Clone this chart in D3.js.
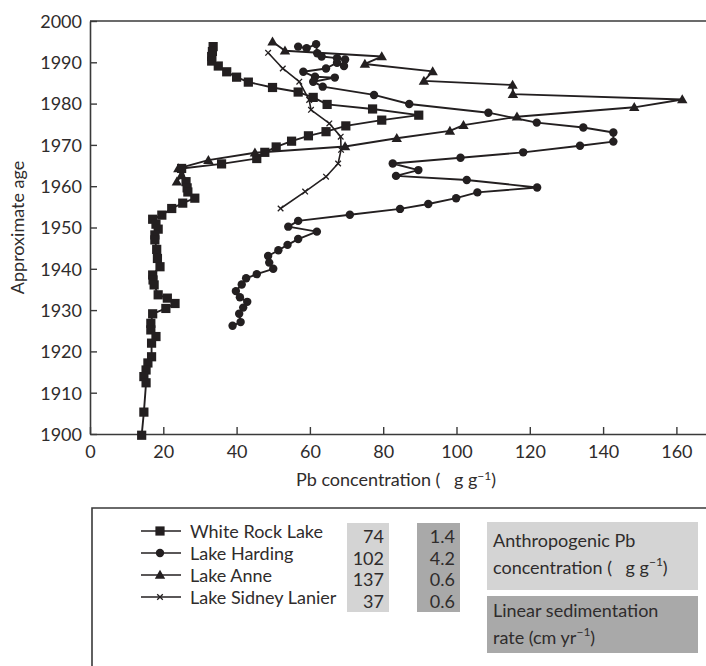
<!DOCTYPE html>
<html><head><meta charset="utf-8">
<script src="https://cdn.jsdelivr.net/npm/d3@7"></script>
<style>
html,body{margin:0;padding:0;background:#fff;}
svg text{font-family:Lato,"Open Sans",sans-serif;fill:#2f2c2c;}
</style></head>
<body><svg id="c" width="706" height="666"></svg>
<script>
// ---------- data ----------
const seriesNames = ["White Rock Lake","Lake Harding","Lake Anne","Lake Sidney Lanier"];
const seriesMarkers = ["square","circle","triangle","x"];

const whiteRockConc = [33.6,33.4,33.2,33.2,35.0,37.3,40.0,43.2,49.8,56.8,60.9,64.7,77.1,89.7,79.6,69.8,64.4,59.6,55.0,50.8,47.7,45.5,35.9,25.0,26.2,26.5,26.7,28.6,25.3,22.3,19.6,17.1,18.0,18.6,17.7,17.7,18.2,18.4,19.1,17.1,17.2,17.5,18.6,21.1,23.2,20.7,17.1,16.6,16.6,18.0,16.8,16.8,15.8,15.3,14.7,15.3,14.7,14.1];
const whiteRockYear = [1993.8,1992.6,1991.4,1990.3,1989.1,1987.7,1986.4,1985.2,1983.9,1982.8,1981.5,1979.8,1978.7,1977.2,1976.0,1974.6,1973.2,1972.2,1970.9,1969.5,1968.2,1966.7,1965.4,1964.3,1961.1,1959.6,1958.6,1957.1,1955.9,1954.6,1953.0,1952.0,1950.8,1949.6,1948.2,1947.0,1944.7,1942.5,1940.5,1938.5,1937.3,1936.1,1933.7,1932.9,1931.6,1930.4,1929.1,1926.8,1925.2,1923.6,1922.0,1918.7,1917.2,1915.5,1913.9,1912.4,1905.3,1899.7];

const hardingConc = [56.8,59.1,61.7,62.0,63.2,67.4,69.6,69.3,67.4,64.4,58.2,61.4,66.8,60.9,63.5,77.5,87.1,108.7,121.9,134.6,142.8,142.8,133.7,118.2,101.1,82.6,89.6,83.5,102.8,122.0,105.7,99.9,92.3,84.6,70.9,56.8,54.1,61.9,56.8,53.9,51.4,48.6,48.9,50.0,45.5,42.6,41.4,39.8,40.9,42.9,41.8,40.7,41.1,38.9];
const hardingYear = [1993.8,1993.4,1994.4,1992.2,1991.4,1991.0,1990.7,1989.1,1989.9,1988.5,1987.7,1986.5,1986.3,1985.3,1984.1,1982.1,1979.9,1977.8,1975.4,1974.2,1973.0,1970.8,1969.8,1968.2,1966.9,1965.5,1963.9,1962.5,1961.5,1959.7,1958.5,1957.1,1955.7,1954.5,1953.1,1951.6,1950.2,1949.0,1947.2,1945.8,1944.5,1943.1,1941.5,1940.0,1938.7,1937.7,1936.2,1934.6,1933.1,1932.0,1930.6,1929.1,1927.1,1926.2];

const anneConc = [49.8,53.2,79.6,75.0,93.5,91.1,115.3,115.4,161.6,148.5,116.5,101.9,98.2,83.7,69.6,45.0,32.3,24.1,24.9,23.7];
const anneYear = [1995.0,1992.8,1991.4,1989.6,1987.8,1985.5,1984.5,1982.3,1981.0,1979.1,1976.8,1974.8,1973.4,1971.6,1969.6,1968.1,1966.3,1964.3,1962.6,1961.1];

const lanierConc = [48.6,52.6,57.1,59.8,60.3,65.3,68.4,68.5,67.7,64.4,58.7,52.0];
const lanierYear = [1992.3,1988.5,1985.3,1980.9,1978.5,1975.2,1972.0,1968.8,1965.5,1962.3,1958.7,1954.6];

const anthropogenicPb = ["74","102","137","37"];
const sedimentationRate = ["1.4","4.2","0.6","0.6"];

const xTicks = [0,20,40,60,80,100,120,140,160];
const yTicks = [1900,1910,1920,1930,1940,1950,1960,1970,1980,1990,2000];

// ---------- chart ----------
(function () {
const svg = d3.select("#c");
const ink = "#231f20";
const axisInk = "#3a3a3a";
const fs = 18;
const mLeft = 90, mTop = 21, mBottom = 434, mRight = 706;

const x = d3.scaleLinear().domain([0, (mRight-mLeft)/3.665]).range([mLeft, mRight]);
const y = d3.scaleLinear().domain([1900, 2000]).range([mBottom, mTop]);

// axes
const gx = svg.append("g").attr("transform", `translate(0,${mBottom})`)
  .call(d3.axisBottom(x).tickValues(xTicks).tickFormat(d3.format("d")).tickSize(-7).tickSizeOuter(0));
const gy = svg.append("g").attr("transform", `translate(${mLeft},0)`)
  .call(d3.axisLeft(y).tickValues(yTicks).tickFormat(d3.format("d")).tickSize(-7).tickSizeOuter(0));
[gx, gy].forEach(g => {
  g.select(".domain").attr("stroke", axisInk).attr("stroke-width", 1.6);
  g.selectAll(".tick line").attr("stroke", axisInk).attr("stroke-width", 1.4);
  g.selectAll(".tick text").attr("font-size", fs).attr("fill", "#2f2c2c")
    .style("font-family", "Lato, 'Open Sans', sans-serif");
});
gx.selectAll(".tick text").attr("y", 18).attr("dy", "0.35em");
gy.selectAll(".tick text").attr("x", -8).attr("dy", "0.35em");
// top frame line
svg.append("line").attr("x1", mLeft).attr("x2", mRight).attr("y1", mTop).attr("y2", mTop)
  .attr("stroke", axisInk).attr("stroke-width", 1.6);

// axis titles
svg.append("text").attr("transform", `translate(17,${(mTop+mBottom)/2}) rotate(-90)`)
  .attr("text-anchor", "middle").attr("dominant-baseline", "central").attr("font-size", fs)
  .text("Approximate age");
const xt = svg.append("text").attr("x", 396).attr("y", 486).attr("text-anchor", "middle")
  .attr("font-size", fs);
xt.append("tspan").text("Pb concentration (\u2002 g g");
xt.append("tspan").attr("dy", -6).attr("font-size", 12).text("\u22121");
xt.append("tspan").attr("dy", 6).text(")");

// markers
function drawMarker(g, type, cx, cy) {
  if (type === "square") {
    g.append("rect").attr("x", cx-4.6).attr("y", cy-4.6).attr("width", 9.2).attr("height", 9.2).attr("fill", ink);
  } else if (type === "circle") {
    g.append("circle").attr("cx", cx).attr("cy", cy).attr("r", 4.2).attr("fill", ink);
  } else if (type === "triangle") {
    g.append("path").attr("transform", `translate(${cx},${cy})`)
      .attr("d", "M0,-5.2L5.2,3.8L-5.2,3.8Z").attr("fill", ink);
  } else {
    g.append("path").attr("transform", `translate(${cx},${cy})`)
      .attr("d", "M-2.8,-2.8L2.8,2.8M-2.8,2.8L2.8,-2.8").attr("stroke", ink).attr("stroke-width", 1.3);
  }
}

const series = [
  {conc: whiteRockConc, year: whiteRockYear},
  {conc: hardingConc, year: hardingYear},
  {conc: anneConc, year: anneYear},
  {conc: lanierConc, year: lanierYear}
];
const line = d3.line().x(d => x(d[0])).y(d => y(d[1]));
series.forEach((s, i) => {
  const pts = s.conc.map((c, k) => [c, s.year[k]]);
  const g = svg.append("g");
  g.append("path").datum(pts).attr("d", line).attr("fill", "none")
    .attr("stroke", ink).attr("stroke-width", i === 3 ? 1.6 : 1.9).attr("stroke-linejoin", "round");
  pts.forEach(p => drawMarker(g, seriesMarkers[i], x(p[0]), y(p[1])));
});

// ---------- legend ----------
svg.append("path").attr("d", `M92,666V508H706`).attr("fill", "none").attr("stroke", axisInk).attr("stroke-width", 1.6);
const rowY = d3.scalePoint().domain(d3.range(4)).range([531, 597]);
const lg = svg.append("g");
seriesNames.forEach((n, i) => {
  const yy = rowY(i);
  lg.append("line").attr("x1", 141).attr("x2", 181).attr("y1", yy).attr("y2", yy)
    .attr("stroke", ink).attr("stroke-width", 1.3);
  drawMarker(lg, seriesMarkers[i], 160, yy);
  lg.append("text").attr("x", 190).attr("y", yy).attr("dominant-baseline", "central")
    .attr("font-size", fs).text(n);
});
// value boxes
lg.append("rect").attr("x", 347).attr("y", 523).attr("width", 42).attr("height", 89).attr("fill", "#d4d4d4");
lg.append("rect").attr("x", 417).attr("y", 523).attr("width", 43).attr("height", 89).attr("fill", "#a9a9a9");
const numY = d3.scalePoint().domain(d3.range(4)).range([536, 601]);
anthropogenicPb.forEach((v, i) => lg.append("text").attr("x", 384).attr("y", numY(i))
  .attr("text-anchor", "end").attr("dominant-baseline", "central").attr("font-size", fs).text(v));
sedimentationRate.forEach((v, i) => lg.append("text").attr("x", 455).attr("y", numY(i))
  .attr("text-anchor", "end").attr("dominant-baseline", "central").attr("font-size", fs).text(v));
// descriptive boxes
lg.append("rect").attr("x", 487).attr("y", 522).attr("width", 211).attr("height", 68).attr("fill", "#d4d4d4");
lg.append("rect").attr("x", 487).attr("y", 596).attr("width", 211).attr("height", 57).attr("fill", "#a9a9a9");
lg.append("text").attr("x", 493).attr("y", 540).attr("dominant-baseline", "central").attr("font-size", fs).text("Anthropogenic Pb");
const t2 = lg.append("text").attr("x", 493).attr("y", 567).attr("dominant-baseline", "central").attr("font-size", fs);
t2.append("tspan").text("concentration (\u2002 g g");
t2.append("tspan").attr("dy", -6).attr("font-size", 12).text("\u22121");
t2.append("tspan").attr("dy", 6).text(")");
lg.append("text").attr("x", 493).attr("y", 610).attr("dominant-baseline", "central").attr("font-size", fs).text("Linear sedimentation");
const t4 = lg.append("text").attr("x", 493).attr("y", 637).attr("dominant-baseline", "central").attr("font-size", fs);
t4.append("tspan").text("rate (cm yr");
t4.append("tspan").attr("dy", -6).attr("font-size", 12).text("\u22121");
t4.append("tspan").attr("dy", 6).text(")");
})();
</script></body></html>
